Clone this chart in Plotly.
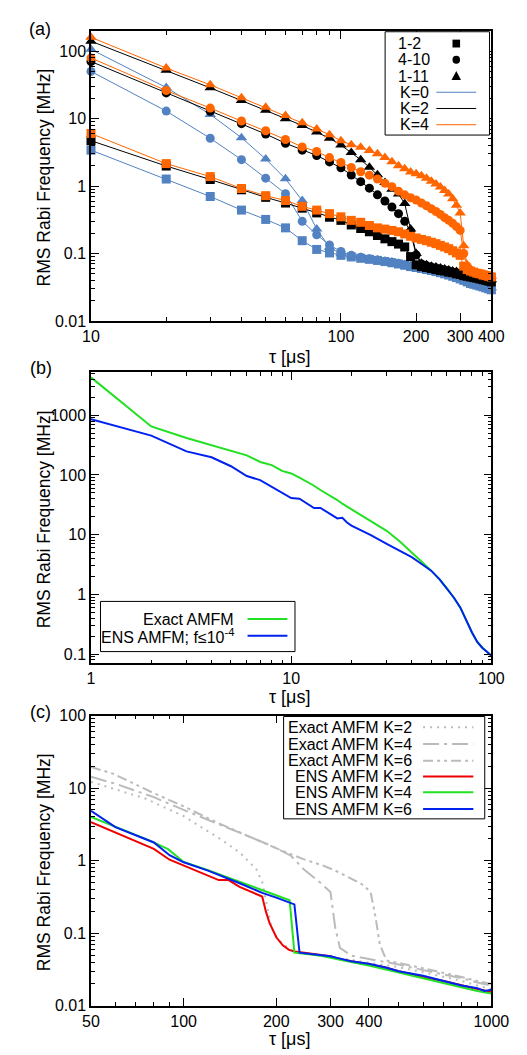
import math
import plotly.graph_objects as go

W, H = 527, 1055
FONT = "Liberation Sans, Arial, Helvetica, sans-serif"

# ---------------- Panel (a) data ----------------
tau_a = [10, 20, 30, 40, 50, 60, 70, 80, 90, 100, 110, 120, 130, 140, 150, 160, 170, 180, 190, 200,
         210, 220, 230, 240, 250, 260, 270, 280, 290, 300, 310, 320, 330, 340, 350, 360, 370, 380, 390, 400]

sq_k0 = [3.4, 1.27, 0.70, 0.44, 0.32, 0.24, 0.155, 0.115, 0.102, 0.094, 0.089, 0.085, 0.082, 0.079, 0.076,
         0.073, 0.070, 0.067, 0.064, 0.062, 0.060, 0.058, 0.056, 0.054, 0.052, 0.050, 0.048, 0.046, 0.044,
         0.042, 0.040, 0.038, 0.036, 0.035, 0.034, 0.033, 0.032, 0.031, 0.030, 0.029]
ci_k0 = [50, 12.9, 5.1, 2.46, 1.31, 0.77, 0.30, 0.19, 0.134, 0.107, 0.094, 0.088, 0.084, 0.080, 0.077,
         0.074, 0.071, 0.068, 0.065, 0.063, 0.061, 0.059, 0.057, 0.055, 0.053, 0.051, 0.049, 0.047, 0.045,
         0.043, 0.041, 0.039, 0.037, 0.036, 0.035, 0.034, 0.033, 0.032, 0.031, 0.030]
tr_k0 = [106, 28.8, 11.5, 5.2, 2.52, 1.28, 0.61, 0.23, 0.124, 0.099, 0.092, 0.087, 0.083, 0.080, 0.077,
         0.075, 0.072, 0.069, 0.066, 0.064, 0.062, 0.060, 0.058, 0.056, 0.054, 0.052, 0.050, 0.048, 0.046,
         0.044, 0.042, 0.040, 0.038, 0.037, 0.036, 0.035, 0.034, 0.033, 0.032, 0.031]

sq_k2 = [4.7, 1.98, 1.25, 0.88, 0.68, 0.56, 0.47, 0.40, 0.345, 0.31, 0.265, 0.235, 0.21, 0.185, 0.165,
         0.15, 0.138, 0.125, 0.09, 0.068, 0.064, 0.062, 0.060, 0.058, 0.056, 0.055, 0.053, 0.052, 0.050,
         0.049, 0.047, 0.046, 0.045, 0.044, 0.043, 0.042, 0.041, 0.040, 0.039, 0.038]
ci_k2 = [70, 24, 12.8, 8.4, 5.9, 4.3, 3.4, 2.84, 2.28, 1.86, 1.46, 1.16, 0.93, 0.74, 0.60,
         0.49, 0.39, 0.30, 0.21, 0.095, 0.070, 0.066, 0.063, 0.061, 0.059, 0.057, 0.055, 0.053, 0.052,
         0.050, 0.049, 0.047, 0.046, 0.045, 0.044, 0.043, 0.042, 0.041, 0.040, 0.039]
tr_k2 = [140, 52, 28.5, 18.5, 13.3, 9.9, 7.9, 6.3, 5.1, 4.05, 3.15, 2.45, 1.9, 1.47, 1.13,
         0.90, 0.76, 0.55, 0.23, 0.10, 0.072, 0.068, 0.065, 0.063, 0.061, 0.059, 0.057, 0.055, 0.054,
         0.052, 0.051, 0.049, 0.048, 0.047, 0.046, 0.045, 0.044, 0.043, 0.042, 0.041]

sq_k4 = [6.0, 2.15, 1.38, 0.92, 0.72, 0.61, 0.50, 0.44, 0.39, 0.35, 0.31, 0.29, 0.26, 0.24, 0.23,
         0.22, 0.21, 0.195, 0.18, 0.17, 0.162, 0.155, 0.147, 0.14, 0.132, 0.125, 0.118, 0.11, 0.102,
         0.094, 0.065, 0.058, 0.055, 0.053, 0.051, 0.050, 0.048, 0.047, 0.046, 0.045]
ci_k4 = [79, 26, 14.3, 9.2, 6.6, 4.9, 3.8, 3.25, 2.64, 2.23, 1.88, 1.63, 1.45, 1.27, 1.10,
         0.98, 0.84, 0.74, 0.67, 0.62, 0.56, 0.51, 0.46, 0.42, 0.38, 0.34, 0.31, 0.28, 0.25,
         0.22, 0.10, 0.065, 0.056, 0.053, 0.051, 0.050, 0.049, 0.048, 0.047, 0.046]
tr_k4 = [160, 56, 31.6, 20.4, 14.7, 11.1, 8.7, 7.0, 5.75, 4.7, 4.1, 3.75, 3.35, 3.0, 2.65,
         2.3, 2.0, 1.8, 1.62, 1.52, 1.42, 1.3, 1.18, 1.07, 0.97, 0.86, 0.76, 0.65, 0.52,
         0.40, 0.13, 0.068, 0.058, 0.054, 0.052, 0.050, 0.049, 0.048, 0.047, 0.046]

# ---------------- Panel (b) data ----------------
tau_b = [1, 2, 3, 4, 5, 6, 7, 8, 9, 10, 11, 12, 13, 14, 15, 16, 17, 18, 19, 20,
         25, 30, 35, 40, 45, 50, 55, 60, 65, 70, 75, 80, 85, 90, 95, 100]
exact_b = [4300, 650, 415, 315, 255, 213, 165, 146, 117, 106, 90, 77, 66, 56, 49, 43, 38, 33, 29.5, 26.5,
           17, 11.6, 7.6, 5.1, 3.5, 2.5, 1.8, 1.26, 0.88, 0.60, 0.36, 0.23, 0.16, 0.128, 0.11, 0.094]
ens_b = [860, 455, 248, 198, 140, 96, 82, 63, 50, 41, 40, 33, 28, 28, 24.5, 21, 18.7, 19.2, 16, 14.2,
         9.8, 7.0, 5.4, 4.2, 3.2, 2.5, 1.8, 1.26, 0.88, 0.60, 0.36, 0.23, 0.16, 0.128, 0.11, 0.094]

# ---------------- Panel (c) data ----------------
ex2_t = [50, 60, 75, 100, 132, 152, 172, 180, 187, 193, 203, 223, 250, 300, 350, 400, 500, 600, 700, 800, 900, 1000]
ex2_v = [12.2, 9.7, 7.2, 4.1, 1.97, 1.30, 0.77, 0.51, 0.22, 0.118, 0.082, 0.058, 0.052, 0.047, 0.043, 0.039,
         0.034, 0.029, 0.025, 0.022, 0.019, 0.017]
ex4_t = [50, 60, 80, 100, 152, 193, 223, 245, 276, 300, 311, 322, 351, 400, 500, 600, 700, 800, 900, 1000]
ex4_v = [14.3, 11.5, 7.5, 5.0, 2.43, 1.6, 1.17, 0.77, 0.51, 0.37, 0.118, 0.063, 0.049, 0.044, 0.037, 0.031,
         0.027, 0.024, 0.021, 0.019]
ex6_t = [50, 59, 80, 100, 129, 203, 245, 283, 311, 378, 405, 419, 434, 456, 500, 600, 700, 800, 900, 1000]
ex6_v = [19.5, 15.8, 8.5, 5.6, 3.32, 1.44, 1.05, 0.86, 0.73, 0.48, 0.37, 0.18, 0.070, 0.042, 0.039, 0.033,
         0.028, 0.025, 0.022, 0.020]
ens2_t = [50, 60, 80, 90, 100, 130, 140, 152, 180, 185, 190, 200, 210, 220, 230, 250, 280, 300, 320, 350,
          400, 450, 500, 600, 700, 800, 900, 1000]
ens2_v = [3.4, 2.43, 1.45, 1.03, 0.86, 0.54, 0.54, 0.435, 0.32, 0.20, 0.14, 0.088, 0.068, 0.059, 0.056,
          0.053, 0.050, 0.048, 0.044, 0.041, 0.037, 0.034, 0.030, 0.025, 0.022, 0.019, 0.017, 0.0155]
ens4_t = [50, 60, 78, 89, 100, 120, 150, 180, 200, 221, 229, 250, 280, 300, 320, 350, 400, 450, 500,
          600, 700, 800, 900, 1000]
ens4_v = [4.0, 2.9, 1.87, 1.44, 0.96, 0.74, 0.52, 0.39, 0.33, 0.285, 0.054, 0.052, 0.049, 0.046, 0.043,
          0.040, 0.036, 0.032, 0.029, 0.024, 0.021, 0.018, 0.016, 0.0148]
ens6_t = [50, 60, 80, 90, 100, 120, 150, 180, 200, 229, 238, 260, 280, 300, 320, 350, 400, 450, 500,
          600, 700, 800, 900, 950, 1000]
ens6_v = [4.87, 2.9, 1.78, 1.19, 0.95, 0.73, 0.50, 0.36, 0.31, 0.25, 0.054, 0.052, 0.050, 0.048, 0.045,
          0.041, 0.038, 0.034, 0.030, 0.026, 0.022, 0.019, 0.0175, 0.016, 0.0166]

BLUE_A = "#5282C2"
ORANGE = "#FF6600"
BLACK = "#000000"
GREEN = "#22E022"
BLUE = "#0022EE"
RED = "#EE0000"
GRAY = "#BBBBBB"

fig = go.Figure()

# Panel (a) traces: K=0 (blue), K=2 (black), K=4 (orange)
for color, series in [(BLUE_A, (sq_k0, ci_k0, tr_k0)), (BLACK, (sq_k2, ci_k2, tr_k2)), (ORANGE, (sq_k4, ci_k4, tr_k4))]:
    for vals, sym, sz in zip(series, ["square", "circle", "triangle-up"], [9, 9, 10]):
        fig.add_trace(go.Scatter(x=tau_a, y=vals, mode="lines+markers", xaxis="x", yaxis="y",
                                 line=dict(color=color, width=1), cliponaxis=False,
                                 marker=dict(symbol=sym, size=sz, color=color, line=dict(width=0)),
                                 showlegend=False, hoverinfo="skip"))

# Panel (b)
fig.add_trace(go.Scatter(x=tau_b, y=exact_b, mode="lines", xaxis="x2", yaxis="y2",
                         line=dict(color=GREEN, width=2), showlegend=False, hoverinfo="skip"))
fig.add_trace(go.Scatter(x=tau_b, y=ens_b, mode="lines", xaxis="x2", yaxis="y2",
                         line=dict(color=BLUE, width=2), showlegend=False, hoverinfo="skip"))

# Panel (c)
DASH2 = "2px,5px"
DASH4 = "16px,5px,3px,5px"
DASH6 = "10px,4px,3px,4px,3px,4px"
for t, v, d in [(ex2_t, ex2_v, DASH2), (ex4_t, ex4_v, DASH4), (ex6_t, ex6_v, DASH6)]:
    fig.add_trace(go.Scatter(x=t, y=v, mode="lines", xaxis="x3", yaxis="y3",
                             line=dict(color=GRAY, width=2, dash=d), showlegend=False, hoverinfo="skip"))
for t, v, c in [(ens2_t, ens2_v, RED), (ens4_t, ens4_v, GREEN), (ens6_t, ens6_v, BLUE)]:
    fig.add_trace(go.Scatter(x=t, y=v, mode="lines", xaxis="x3", yaxis="y3",
                             line=dict(color=c, width=2), showlegend=False, hoverinfo="skip"))


def decade_minors(lo_exp, hi_exp, extra=()):
    out = []
    for e in range(lo_exp, hi_exp + 1):
        for m in range(2, 10):
            out.append(m * 10 ** e)
    return out + list(extra)


def axis(domain, rng, tickvals, ticktext, minors, anchor):
    return dict(type="log", domain=domain, range=rng, anchor=anchor,
                tickmode="array", tickvals=tickvals, ticktext=ticktext,
                ticks="inside", ticklen=8, tickwidth=1, tickcolor="black",
                showline=True, linecolor="black", linewidth=1.5, mirror="allticks",
                showgrid=False, zeroline=False,
                tickfont=dict(family=FONT, size=16, color="black"),
                minor=dict(tickmode="array", tickvals=minors, ticks="inside", ticklen=4,
                           tickwidth=1, tickcolor="black", showgrid=False))


def px(x):
    return x / W


def py(y):
    return 1 - y / H


# Panel geometry (pixels)
A = dict(l=78, r=500, t=15, b=310)
B = dict(l=78, r=500, t=362, b=658)
C = dict(l=78, r=500, t=711, b=1006)

layout = dict(
    width=W, height=H, margin=dict(l=0, r=0, t=0, b=0),
    paper_bgcolor="white", plot_bgcolor="white",
    font=dict(family=FONT, size=16, color="black"),
    xaxis=axis([px(A["l"]), px(A["r"])], [1, math.log10(400)], [10, 100, 200, 300, 400],
               ["10", "100", "200", "300", "400"], [20, 30, 40, 50, 60, 70, 80, 90], "y"),
    yaxis=axis([py(A["b"]), py(A["t"])], [-2, math.log10(200)], [0.01, 0.1, 1, 10, 100],
               ["0.01", "0.1", "1", "10", "100"], decade_minors(-2, 1, [200]), "x"),
    xaxis2=axis([px(B["l"]), px(B["r"])], [0, 2], [1, 10, 100], ["1", "10", "100"],
                decade_minors(0, 1), "y2"),
    yaxis2=axis([py(B["b"]), py(B["t"])], [math.log10(0.07), math.log10(5260)], [0.1, 1, 10, 100, 1000],
                ["0.1", "1", "10", "100", "1000"], decade_minors(-1, 2, [0.08, 0.09, 2000, 3000, 4000, 5000]), "x2"),
    xaxis3=axis([px(C["l"]), px(C["r"])], [math.log10(50), 3], [50, 100, 200, 300, 400, 1000],
                ["50", "100", "200", "300", "400", "1000"], [60, 70, 80, 90, 500, 600, 700, 800, 900], "y3"),
    yaxis3=axis([py(C["b"]), py(C["t"])], [-2, 2], [0.01, 0.1, 1, 10, 100],
                ["0.01", "0.1", "1", "10", "100"], decade_minors(-2, 1), "x3"),
)

annotations = []
shapes = []


def text(x, y, s, size=16, anchor="center", angle=0):
    annotations.append(dict(x=px(x), y=py(y), xref="paper", yref="paper", text=s, showarrow=False,
                            xanchor=anchor, yanchor="middle", textangle=angle,
                            font=dict(family=FONT, size=size, color="black")))


# Panel labels, axis titles
for lab, (x, y) in [("(a)", (24, 13)), ("(b)", (25, 358)), ("(c)", (25, 707))]:
    text(x, y, lab, size=18)
for P, ty in [(A, 347), (B, 692), (C, 1040)]:
    text(287, ty, "τ [μs]", size=18)
    text(28, (P["t"] + P["b"]) / 2 + 2, "RMS Rabi Frequency [MHz]", size=17.5, angle=-90)


def box(x0, y0, x1, y1):
    shapes.append(dict(type="rect", xref="paper", yref="paper", x0=px(x0), x1=px(x1), y0=py(y1), y1=py(y0),
                       line=dict(color="black", width=1), fillcolor="white", layer="above"))


def seg(x0, x1, y, color, width=2, dash="solid"):
    shapes.append(dict(type="line", xref="paper", yref="paper", x0=px(x0), x1=px(x1), y0=py(y), y1=py(y),
                       line=dict(color=color, width=width, dash=dash), layer="above"))


# Legend (a)
box(388, 16, 498, 121)
rows_a = [28, 44.5, 61, 77.5, 94, 110.5]
for lab, y in zip(["1-2", "4-10", "1-11", "K=0", "K=2", "K=4"], rows_a):
    text(399 if not lab.startswith("K") else 402, y, lab, size=16, anchor="left")
mx = 463
shapes.append(dict(type="rect", xref="paper", yref="paper", x0=px(mx - 4), x1=px(mx + 4),
                   y0=py(rows_a[0] + 4), y1=py(rows_a[0] - 4), fillcolor="black", line=dict(width=0), layer="above"))
shapes.append(dict(type="circle", xref="paper", yref="paper", x0=px(mx - 4), x1=px(mx + 4),
                   y0=py(rows_a[1] + 4), y1=py(rows_a[1] - 4), fillcolor="black", line=dict(width=0), layer="above"))
yt = rows_a[2]
shapes.append(dict(type="path", xref="paper", yref="paper",
                   path=f"M {px(mx - 5)},{py(yt + 4)} L {px(mx + 5)},{py(yt + 4)} L {px(mx)},{py(yt - 5)} Z",
                   fillcolor="black", line=dict(width=0), layer="above"))
seg(442, 484, rows_a[3], BLUE_A, 1)
seg(442, 484, rows_a[4], BLACK, 1)
seg(442, 484, rows_a[5], ORANGE, 1)

# Legend (b)
box(88, 595, 293, 646)
text(231, 613, "Exact AMFM", anchor="right")
text(231, 630, "ENS AMFM; f≤10<sup>-4</sup>", anchor="right")
seg(243, 285, 613, GREEN, 2)
seg(243, 285, 630, BLUE, 2)

# Legend (c)
box(281, 712, 493, 816)
rows_c = [723, 740, 757, 773, 789, 806]
labs_c = ["Exact AMFM K=2", "Exact AMFM K=4", "Exact AMFM K=6", "ENS AMFM K=2", "ENS AMFM K=4", "ENS AMFM K=6"]
styles_c = [(GRAY, DASH2), (GRAY, DASH4), (GRAY, DASH6), (RED, "solid"), (GREEN, "solid"), (BLUE, "solid")]
for lab, y, (c, d) in zip(labs_c, rows_c, styles_c):
    text(418, y, lab, anchor="right")
    seg(428, 481, y, c, 2, d)

layout["annotations"] = annotations
layout["shapes"] = shapes
fig.update_layout(**layout)

fig.write_html("out.html", config={"displayModeBar": False})
